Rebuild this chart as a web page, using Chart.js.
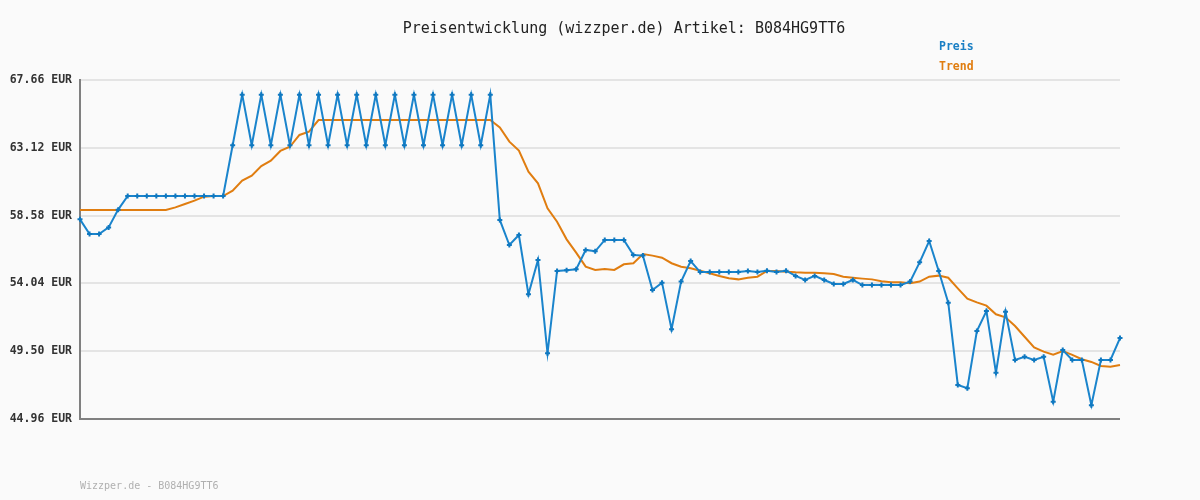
<!DOCTYPE html>
<html>
<head>
<meta charset="utf-8">
<script src="https://cdn.jsdelivr.net/npm/chart.js@4/dist/chart.umd.min.js"></script>
<style>
    body { margin: 0; background: #fafafa; }
    #wrap { position: relative; width: 1200px; height: 500px; }
    canvas { position: absolute; left: 0; top: 0; }
    .txt { position: absolute; font-family: "DejaVu Sans Mono", monospace; white-space: nowrap; }
    #title { left: 0; width: 1248px; top: 19px; text-align: center; font-size: 15px; color: #222; }
    .leg { left: 939px; font-size: 11.5px; font-weight: bold; }
    #footer { left: 80px; top: 480px; font-size: 10px; color: #b0b0b0; }
</style>
</head>
<body>
<div id="wrap">
    <canvas id="priceChart" width="1200" height="500"></canvas>
    <div id="title" class="txt">Preisentwicklung (wizzper.de) Artikel: B084HG9TT6</div>
    <div class="txt leg" style="top:39px;color:#1a7fc4;">Preis</div>
    <div class="txt leg" style="top:59px;color:#e07d10;">Trend</div>
    <div id="footer" class="txt">Wizzper.de - B084HG9TT6</div>
</div>
<script>
// Preise (EUR) je Messpunkt
const preis = [
    58.33, 57.35, 57.35, 57.79, 58.98,
    59.89, 59.89, 59.89, 59.89, 59.89, 59.89, 59.89, 59.89, 59.89, 59.89, 59.89,
    63.29, 66.68, 63.29, 66.68, 63.29, 66.68, 63.29, 66.68, 63.29, 66.68,
    63.29, 66.68, 63.29, 66.68, 63.29, 66.68, 63.29, 66.68, 63.29, 66.68,
    63.29, 66.68, 63.29, 66.68, 63.29, 66.68, 63.29, 66.68,
    58.29, 56.61, 57.28, 53.31, 55.61, 49.36, 54.87, 54.92, 54.98, 56.28,
    56.19, 56.95, 56.95, 56.95, 55.94, 55.90, 53.60, 54.09, 50.97, 54.16,
    55.54, 54.80, 54.80, 54.80, 54.80, 54.80, 54.87, 54.80, 54.89, 54.80,
    54.89, 54.54, 54.27, 54.54, 54.27, 54.00, 54.00, 54.27, 53.93, 53.93,
    53.93, 53.93, 53.93, 54.16, 55.45, 56.88, 54.87, 52.75, 47.24, 47.02,
    50.85, 52.19, 48.06, 52.15, 48.91, 49.13, 48.91, 49.13, 46.12, 49.58,
    48.91, 48.91, 45.88, 48.91, 48.91, 50.38
];

// gleitender Trend
const trend = [
    58.96, 58.96, 58.96, 58.96, 58.96, 58.96, 58.96, 58.96, 58.96, 58.96,
    59.13, 59.36, 59.58, 59.85, 59.89, 59.89, 60.25, 60.92, 61.25, 61.90,
    62.26, 62.91, 63.19, 63.98, 64.20,
    64.98, 64.98, 64.98, 64.98, 64.98, 64.98, 64.98, 64.98, 64.98, 64.98,
    64.98, 64.98, 64.98, 64.98, 64.98, 64.98, 64.98, 64.98, 64.98,
    64.49, 63.53, 62.93, 61.52, 60.74, 59.07, 58.17, 56.99, 56.10, 55.16,
    54.94, 55.01, 54.94, 55.32, 55.39, 56.01, 55.90, 55.76, 55.39, 55.16,
    55.05, 54.89, 54.72, 54.54, 54.38, 54.31, 54.42, 54.49, 54.87, 54.87,
    54.82, 54.78, 54.76, 54.76, 54.72, 54.67, 54.49, 54.42, 54.36, 54.31,
    54.18, 54.11, 54.11, 54.05, 54.16, 54.49, 54.56, 54.42, 53.71, 53.02,
    52.77, 52.55, 51.97, 51.77, 51.19, 50.47, 49.76, 49.47, 49.27, 49.51,
    49.25, 48.96, 48.78, 48.51, 48.46, 48.58
];

const yTicks = [44.96, 49.50, 54.04, 58.58, 63.12, 67.66];

const labels = preis.map((_, i) => String(i + 1));

const ctx = document.getElementById("priceChart").getContext("2d");

new Chart(ctx, {
    type: 'line',
    data: {
        labels: labels,
        datasets: [{
            label: 'Trend',
            data: trend,
            borderColor: '#e07d10',
            borderWidth: 2,
            pointRadius: 0,
            tension: 0,
            fill: false,
            order: 2
        }, {
            label: 'Preis',
            data: preis,
            borderColor: '#1a84cc',
            borderWidth: 2,
            pointStyle: 'cross',
            pointRadius: 2.5,
            pointBorderColor: '#0f78c0',
            pointBorderWidth: 2,
            tension: 0,
            fill: false,
            order: 1
        }]
    },
    options: {
        responsive: false,
        animation: false,
        layout: { padding: { top: 80, right: 80, bottom: 81, left: 0 } },
        plugins: {
            legend: { display: false },
            title: { display: false },
            tooltip: { enabled: false }
        },
        scales: {
            x: {
                display: false,
                offset: false
            },
            y: {
                min: 44.96,
                max: 67.66,
                afterBuildTicks: scale => {
                    scale.ticks = yTicks.map(v => ({ value: v }));
                },
                afterFit: scale => { scale.width = 80; },
                ticks: {
                    padding: 8,
                    color: '#333',
                    font: { family: 'DejaVu Sans Mono', size: 11.5, weight: 'bold' },
                    callback: v => Number(v).toFixed(2) + ' EUR'
                },
                grid: {
                    drawTicks: false,
                    lineWidth: 2,
                    color: c => c.index === 0 ? '#808080' : '#e4e4e4'
                },
                border: { color: '#808080', width: 2 }
            }
        }
    }
});
</script>
</body>
</html>
